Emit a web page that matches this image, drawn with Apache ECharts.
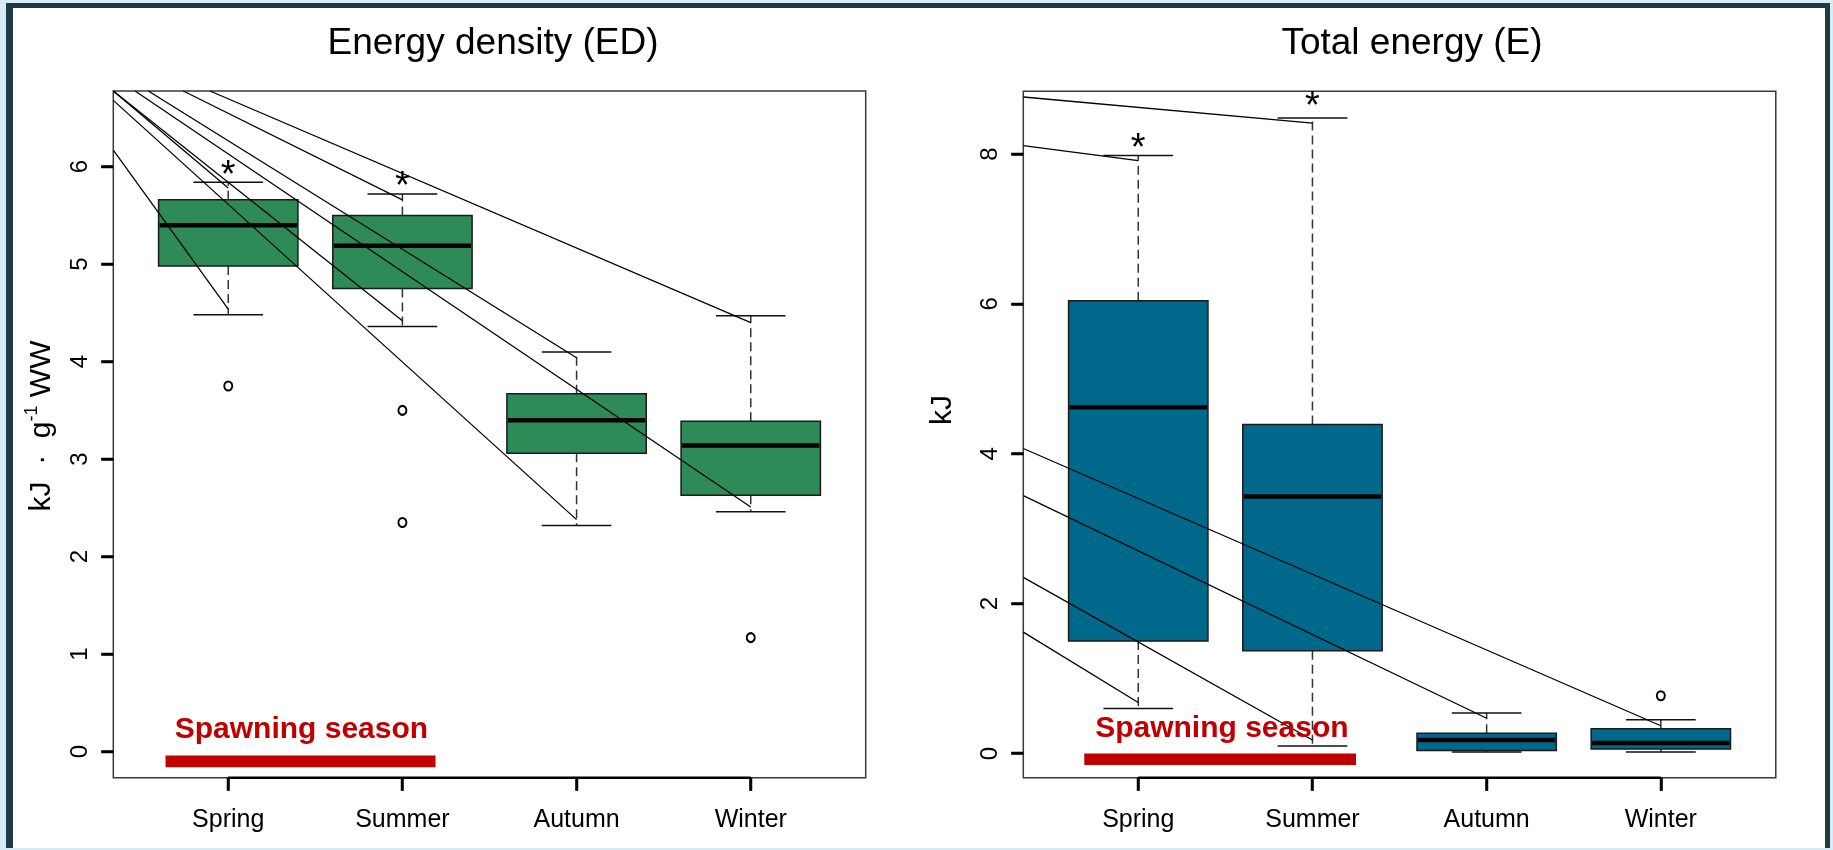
<!DOCTYPE html>
<html>
<head>
<meta charset="utf-8">
<script src="https://cdn.jsdelivr.net/npm/echarts@6/dist/echarts.min.js"></script>
<style>
html,body{margin:0;padding:0;background:#d7ecf4;width:1833px;height:850px;overflow:hidden;}
#frame{position:absolute;left:6px;top:3px;width:1812px;height:840px;background:#fff;
  border-left:7px solid #1c3b47;border-top:5px solid #1c3b47;border-right:5px solid #1c3b47;}
#c{position:absolute;left:0;top:0;width:1833px;height:850px;}
</style>
</head>
<body>
<div id="frame"></div>
<div id="c"></div>
<script>
// ---------------- data ----------------
const seasons = ['Spring', 'Summer', 'Autumn', 'Winter'];
const seasonPos = [1, 2, 3, 4];

// Energy density (ED): [lower whisker, Q1, median, Q3, upper whisker]
const edStats = [
  [4.48, 4.98, 5.40, 5.66, 5.84],
  [4.36, 4.75, 5.19, 5.50, 5.72],
  [2.32, 3.06, 3.40, 3.67, 4.10],
  [2.46, 2.63, 3.14, 3.39, 4.47]
];
const edOutliers = [[1, 3.75], [2, 3.50], [2, 2.35], [4, 1.17]];
const edTicks = [0, 1, 2, 3, 4, 5, 6];
const edRange = [-0.267, 6.776];
// annotation segments [x0, y0, x1, y1]
const edSegments = [
  [0.34, 6.17, 1, 4.54],
  [0.34, 6.776, 1, 5.78],
  [0.34, 6.776, 2, 4.42],
  [0.742, 6.776, 2, 5.66],
  [0.34, 6.68, 3, 2.38],
  [0.541, 6.776, 3, 4.04],
  [0.465, 6.776, 4, 2.51],
  [0.895, 6.776, 4, 4.40]
];
const edStars = [[1, 5.98], [2, 5.87]];
const edSpawnBar = [0.64, 2.19, -0.04, -0.16];
const edSpawnText = [1.42, 0.19];

// Total energy (E)
const teStats = [
  [0.60, 1.50, 4.62, 6.04, 7.98],
  [0.10, 1.37, 3.43, 4.39, 8.48],
  [0.02, 0.04, 0.18, 0.27, 0.54],
  [0.02, 0.06, 0.14, 0.33, 0.45]
];
const teOutliers = [[4, 0.77]];
const teTicks = [0, 2, 4, 6, 8];
const teRange = [-0.323, 8.836];
const teSegments = [
  [0.34, 8.76, 2, 8.41],
  [0.34, 8.11, 1, 7.91],
  [0.34, 4.07, 4, 0.37],
  [0.34, 3.44, 3, 0.47],
  [0.34, 2.35, 2, 0.18],
  [0.34, 1.62, 1, 0.68]
];
const teStars = [[1, 8.16], [2, 8.72]];
const teSpawnBar = [0.69, 2.25, 0.0, -0.153];
const teSpawnText = [1.48, 0.29];

const xRange = [0.34, 4.66];
const titles = ['Energy density (ED)', 'Total energy (E)'];
const spawnLabel = 'Spawning season';

// ---------------- styles ----------------
const FONT = "'Liberation Sans', Arial, sans-serif";
const edColor = '#2e8b57';
const teColor = '#00688b';
const spawnColor = '#c00000';

function boxSeries(g, stats, color) {
  return {
    type: 'custom', xAxisIndex: g, yAxisIndex: g, clip: false, z: 3, silent: true,
    data: stats.map((s, i) => [seasonPos[i]].concat(s)),
    encode: { x: 0, y: [1, 2, 3, 4, 5] },
    renderItem(params, api) {
      const x = api.value(0);
      const L = api.coord([x - 0.4, 0])[0], R = api.coord([x + 0.4, 0])[0];
      const cl = api.coord([x - 0.2, 0])[0], cr = api.coord([x + 0.2, 0])[0];
      const cx = api.coord([x, 0])[0];
      const y = k => api.coord([x, api.value(k)])[1];
      const yLo = y(1), yQ1 = y(2), yMed = y(3), yQ3 = y(4), yHi = y(5);
      const dash = { stroke: '#333', lineWidth: 1.5, lineDash: [9, 5] };
      const cap = { stroke: '#111', lineWidth: 1.5 };
      return {
        type: 'group', children: [
          { type: 'line', shape: { x1: cx, y1: yQ3, x2: cx, y2: yHi }, style: dash },
          { type: 'line', shape: { x1: cx, y1: yQ1, x2: cx, y2: yLo }, style: dash },
          { type: 'line', shape: { x1: cl, y1: yHi, x2: cr, y2: yHi }, style: cap },
          { type: 'line', shape: { x1: cl, y1: yLo, x2: cr, y2: yLo }, style: cap },
          { type: 'rect', shape: { x: L, y: yQ3, width: R - L, height: yQ1 - yQ3 },
            style: { fill: color, stroke: '#1a1a1a', lineWidth: 1.5 } },
          { type: 'line', shape: { x1: L + 1, y1: yMed, x2: R - 1, y2: yMed },
            style: { stroke: '#000', lineWidth: 4.5 } }
        ]
      };
    }
  };
}

function segSeries(g, segs) {
  return {
    type: 'custom', xAxisIndex: g, yAxisIndex: g, clip: false, z: 5, silent: true,
    data: segs, encode: { x: [0, 2], y: [1, 3] },
    renderItem(params, api) {
      const a = api.coord([api.value(0), api.value(1)]);
      const b = api.coord([api.value(2), api.value(3)]);
      return { type: 'line', shape: { x1: a[0], y1: a[1], x2: b[0], y2: b[1] },
               style: { stroke: '#000', lineWidth: 1.3 } };
    }
  };
}

function outlierSeries(g, pts) {
  return {
    type: 'scatter', xAxisIndex: g, yAxisIndex: g, data: pts, z: 4, silent: true,
    symbol: 'emptyCircle', symbolSize: [8, 9], clip: false,
    itemStyle: { color: '#000', borderColor: '#000', borderWidth: 1.2, opacity: 1 }
  };
}

function starSeries(g, pts) {
  return {
    type: 'custom', xAxisIndex: g, yAxisIndex: g, clip: false, z: 6, silent: true,
    data: pts, encode: { x: 0, y: 1 },
    renderItem(params, api) {
      const p = api.coord([api.value(0), api.value(1)]);
      return { type: 'text', x: p[0], y: p[1] + 8,
        style: { text: '*', font: "38px " + FONT, fill: '#000', align: 'center', verticalAlign: 'middle' } };
    }
  };
}

function spawnSeries(g, bar, txt) {
  return {
    type: 'custom', xAxisIndex: g, yAxisIndex: g, clip: false, z: 7, silent: true,
    data: [bar.concat(txt)], encode: { x: [0, 1], y: [2, 3] },
    renderItem(params, api) {
      const a = api.coord([api.value(0), api.value(2)]);
      const b = api.coord([api.value(1), api.value(3)]);
      const t = api.coord([api.value(4), api.value(5)]);
      return { type: 'group', children: [
        { type: 'rect', shape: { x: a[0], y: a[1], width: b[0] - a[0], height: b[1] - a[1] },
          style: { fill: spawnColor } },
        { type: 'text', x: t[0], y: t[1] - 3,
          style: { text: spawnLabel, font: "bold 30px " + FONT, fill: spawnColor,
                   align: 'center', verticalAlign: 'middle' } }
      ] };
    }
  };
}

// R-style x axis line only between the first and last tick
function axisLineSeries(g, yRange) {
  return {
    type: 'custom', xAxisIndex: g, yAxisIndex: g, clip: false, z: 20, silent: true,
    data: [[seasonPos[0], yRange[0]]],
    encode: { x: 0, y: 1 },
    renderItem(params, api) {
      const a = api.coord([seasonPos[0], yRange[0]]);
      const b = api.coord([seasonPos[seasonPos.length - 1], yRange[0]]);
      return { type: 'line', shape: { x1: a[0], y1: a[1], x2: b[0], y2: b[1] },
               style: { stroke: '#000', lineWidth: 2.5 } };
    }
  };
}

function xAxisOpt(g) {
  return {
    type: 'value', gridIndex: g, min: xRange[0], max: xRange[1], position: 'bottom',
    splitLine: { show: false },
    axisLine: { show: true, onZero: false, lineStyle: { color: 'rgba(0,0,0,0)' } },
    axisTick: { show: true, inside: false, customValues: seasonPos, length: 13,
                lineStyle: { color: '#000', width: 2.5 } },
    axisLabel: { customValues: seasonPos, formatter: v => seasons[Math.round(v) - 1],
      fontSize: 25, fontFamily: FONT, color: '#000', margin: 30, lineHeight: 25 }
  };
}
function yAxisOpt(g, range, ticks) {
  return {
    type: 'value', gridIndex: g, min: range[0], max: range[1], position: 'left',
    splitLine: { show: false },
    axisLine: { show: true, onZero: false, lineStyle: { color: 'rgba(0,0,0,0)' } },
    axisTick: { show: true, inside: false, customValues: ticks, length: 12,
                lineStyle: { color: '#000', width: 2.5 } },
    axisLabel: { customValues: ticks, rotate: 90, fontSize: 24, fontFamily: FONT, color: '#000',
      margin: 21, lineHeight: 24 }
  };
}

const baseGraphic = [
  { type: 'text', x: 493, y: 44, style: { text: titles[0], font: "37px " + FONT, fill: '#000', align: 'center', verticalAlign: 'middle' } },
  { type: 'text', x: 1412, y: 44, style: { text: titles[1], font: "37px " + FONT, fill: '#000', align: 'center', verticalAlign: 'middle' } },
  { type: 'text', x: 40, y: 426, rotation: Math.PI / 2,
    style: { text: '{a|kJ  ·  g}{s|-1}{a| WW}', align: 'center', verticalAlign: 'middle',
      rich: { a: { fontSize: 30, fontFamily: FONT, fill: '#000', lineHeight: 34, verticalAlign: 'bottom' },
              s: { fontSize: 18, fontFamily: FONT, fill: '#000', lineHeight: 34, verticalAlign: 'top' } } } },
  { type: 'text', x: 943, y: 410, rotation: Math.PI / 2,
    style: { text: 'kJ', font: "30px " + FONT, fill: '#000', align: 'center', verticalAlign: 'middle' } }
];

const chart = echarts.init(document.getElementById('c'), null, { renderer: 'canvas' });
chart.setOption({
  backgroundColor: 'transparent',
  animation: false,
  grid: [
    { left: 113.3, top: 91, width: 752.4, height: 686.7, show: true, borderColor: '#3a3a3a', borderWidth: 1.5, backgroundColor: 'transparent' },
    { left: 1023.3, top: 91.3, width: 752.5, height: 686.4, show: true, borderColor: '#3a3a3a', borderWidth: 1.5, backgroundColor: 'transparent' }
  ],
  xAxis: [xAxisOpt(0), xAxisOpt(1)],
  yAxis: [yAxisOpt(0, edRange, edTicks), yAxisOpt(1, teRange, teTicks)],
  graphic: baseGraphic,
  series: [
    boxSeries(0, edStats, edColor),
    outlierSeries(0, edOutliers),
    segSeries(0, edSegments),
    starSeries(0, edStars),
    spawnSeries(0, edSpawnBar, edSpawnText),
    axisLineSeries(0, edRange),
    boxSeries(1, teStats, teColor),
    outlierSeries(1, teOutliers),
    segSeries(1, teSegments),
    starSeries(1, teStars),
    spawnSeries(1, teSpawnBar, teSpawnText),
    axisLineSeries(1, teRange)
  ]
});

// outward R-style tick marks, positioned through the chart's own axis scales
const tickEls = [];
[[edRange, edTicks], [teRange, teTicks]].forEach(([yr, yt], g) => {
  seasonPos.forEach(p => {
    const c = chart.convertToPixel({ xAxisIndex: g, yAxisIndex: g }, [p, yr[0]]);
    if (c && isFinite(c[0])) {
      tickEls.push({ type: 'rect', z: 50, shape: { x: Math.round(c[0]) - 1.25, y: c[1], width: 2.5, height: 13 },
                     style: { fill: '#000' } });
    }
  });
  yt.forEach(t => {
    const c = chart.convertToPixel({ xAxisIndex: g, yAxisIndex: g }, [xRange[0], t]);
    if (c && isFinite(c[1])) {
      tickEls.push({ type: 'rect', z: 50, shape: { x: c[0] - 12, y: Math.round(c[1]) - 1.25, width: 12, height: 2.5 },
                     style: { fill: '#000' } });
    }
  });
});
chart.setOption({ graphic: baseGraphic.concat(tickEls) });
</script>
</body>
</html>
